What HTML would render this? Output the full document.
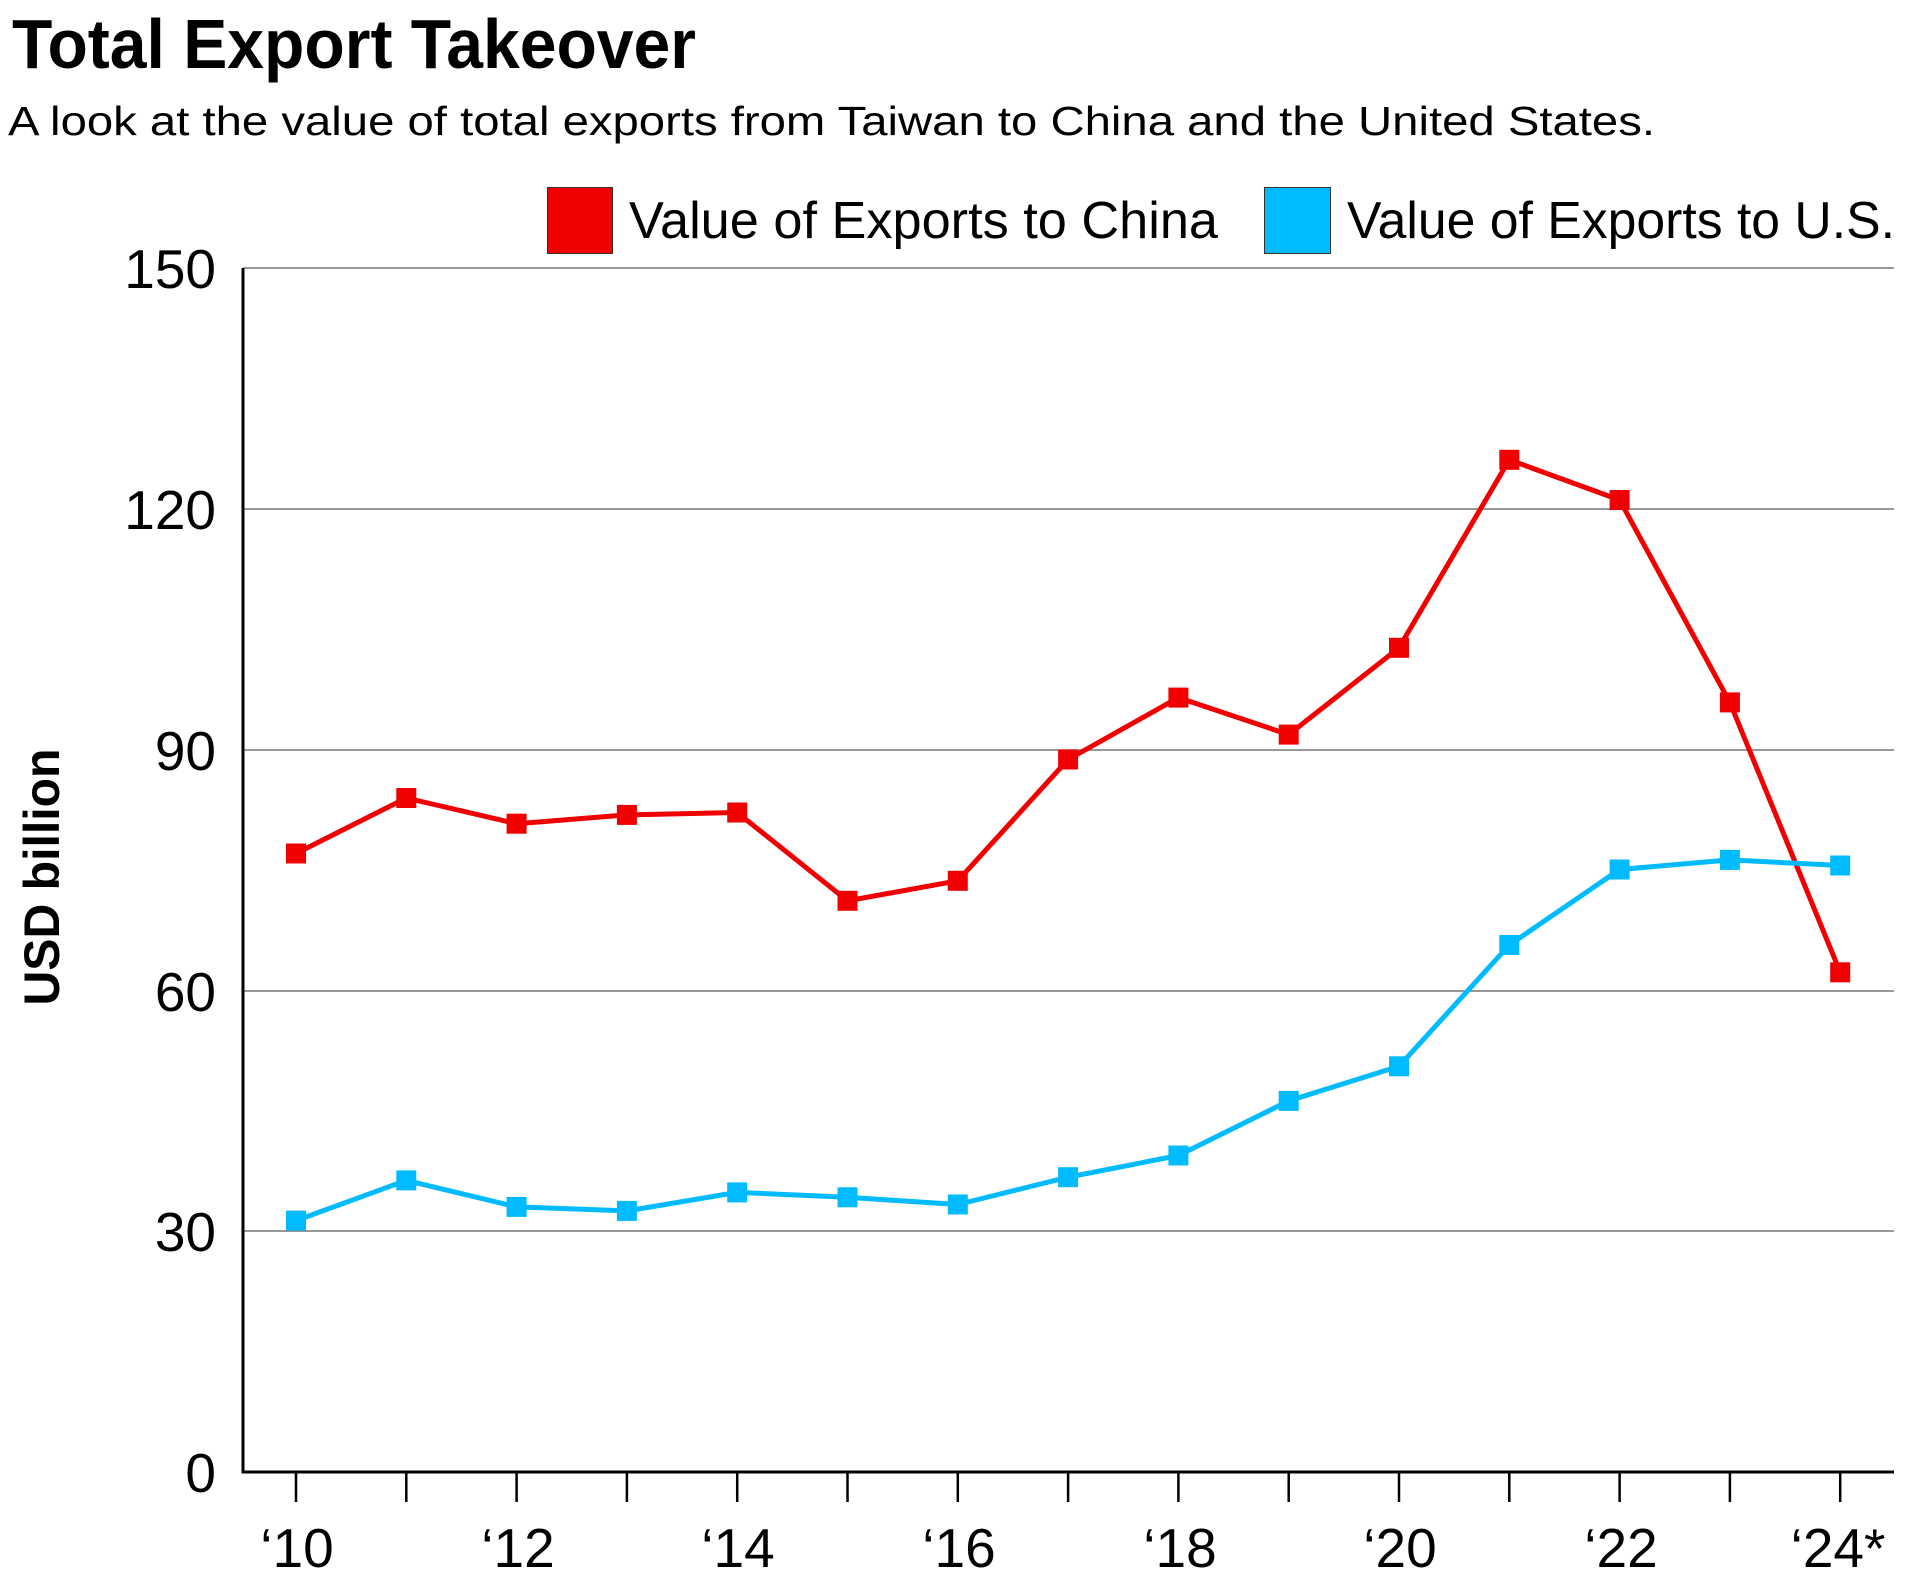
<!DOCTYPE html>
<html><head><meta charset="utf-8"><style>
html,body{margin:0;padding:0;background:#fff;}
svg{display:block;}
text{font-family:"Liberation Sans",sans-serif;fill:#000;}
</style></head><body>
<svg width="1931" height="1589" viewBox="0 0 1931 1589" xmlns="http://www.w3.org/2000/svg">
<text x="12" y="68" font-size="70" font-weight="bold" textLength="684" lengthAdjust="spacingAndGlyphs">Total Export Takeover</text>
<text x="8" y="135" font-size="41" textLength="1647" lengthAdjust="spacingAndGlyphs">A look at the value of total exports from Taiwan to China and the United States.</text>
<rect x="547.5" y="187.5" width="65" height="66" fill="#f00000" stroke="#333" stroke-width="1"/>
<text x="629" y="238" font-size="52" textLength="589" lengthAdjust="spacingAndGlyphs">Value of Exports to China</text>
<rect x="1264.5" y="187.5" width="66" height="66" fill="#00bbff" stroke="#333" stroke-width="1"/>
<text x="1347" y="238" font-size="52" textLength="548" lengthAdjust="spacingAndGlyphs">Value of Exports to U.S.</text>
<g stroke="#777" stroke-width="1.5">
<line x1="243" y1="268" x2="1894" y2="268"/>
<line x1="243" y1="509" x2="1894" y2="509"/>
<line x1="243" y1="750" x2="1894" y2="750"/>
<line x1="243" y1="991" x2="1894" y2="991"/>
<line x1="243" y1="1231" x2="1894" y2="1231"/>
</g>
<g stroke="#000" stroke-width="3" fill="none">
<polyline points="243,268 243,1472 1894,1472"/>
</g>
<g stroke="#000" stroke-width="2.5">
<line x1="296" y1="1472" x2="296" y2="1502"/><line x1="406.3" y1="1472" x2="406.3" y2="1502"/>
<line x1="516.6" y1="1472" x2="516.6" y2="1502"/><line x1="626.9" y1="1472" x2="626.9" y2="1502"/>
<line x1="737.2" y1="1472" x2="737.2" y2="1502"/><line x1="847.5" y1="1472" x2="847.5" y2="1502"/>
<line x1="957.8" y1="1472" x2="957.8" y2="1502"/><line x1="1068.1" y1="1472" x2="1068.1" y2="1502"/>
<line x1="1178.4" y1="1472" x2="1178.4" y2="1502"/><line x1="1288.7" y1="1472" x2="1288.7" y2="1502"/>
<line x1="1399" y1="1472" x2="1399" y2="1502"/><line x1="1509.3" y1="1472" x2="1509.3" y2="1502"/>
<line x1="1619.6" y1="1472" x2="1619.6" y2="1502"/><line x1="1729.9" y1="1472" x2="1729.9" y2="1502"/>
<line x1="1840.2" y1="1472" x2="1840.2" y2="1502"/>
</g>
<g font-size="55" text-anchor="end">
<text x="216" y="288">150</text>
<text x="216" y="529">120</text>
<text x="216" y="770">90</text>
<text x="216" y="1011">60</text>
<text x="216" y="1251">30</text>
<text x="216" y="1492">0</text>
</g>
<g font-size="55" text-anchor="middle">
<text x="297" y="1567">‘10</text>
<text x="518" y="1567">‘12</text>
<text x="738" y="1567">‘14</text>
<text x="959" y="1567">‘16</text>
<text x="1180" y="1567">‘18</text>
<text x="1400" y="1567">‘20</text>
<text x="1621" y="1567">‘22</text>
<text x="1838" y="1567">‘24*</text>
</g>
<text transform="translate(59,877) rotate(-90)" font-size="50" font-weight="bold" text-anchor="middle" textLength="257" lengthAdjust="spacingAndGlyphs">USD billion</text>
<polyline fill="none" stroke="#f00000" stroke-width="5" stroke-linejoin="round" points="296,853.5 406.3,798 516.6,823.7 626.9,814.9 737.2,812.5 847.5,900.8 957.8,880.8 1068.1,759.5 1178.4,697.6 1288.7,734.6 1399,647.8 1509.3,459.8 1619.6,500 1729.9,702.4 1840.2,972.3"/>
<g fill="#f00000">
<rect x="286" y="843.5" width="20" height="20"/><rect x="396.3" y="788" width="20" height="20"/>
<rect x="506.6" y="813.7" width="20" height="20"/><rect x="616.9" y="804.9" width="20" height="20"/>
<rect x="727.2" y="802.5" width="20" height="20"/><rect x="837.5" y="890.8" width="20" height="20"/>
<rect x="947.8" y="870.8" width="20" height="20"/><rect x="1058.1" y="749.5" width="20" height="20"/>
<rect x="1168.4" y="687.6" width="20" height="20"/><rect x="1278.7" y="724.6" width="20" height="20"/>
<rect x="1389" y="637.8" width="20" height="20"/><rect x="1499.3" y="449.8" width="20" height="20"/>
<rect x="1609.6" y="490" width="20" height="20"/><rect x="1719.9" y="692.4" width="20" height="20"/>
<rect x="1830.2" y="962.3" width="20" height="20"/>
</g>
<polyline fill="none" stroke="#00bbff" stroke-width="5" stroke-linejoin="round" points="296,1220.6 406.3,1180.4 516.6,1206.9 626.9,1210.9 737.2,1192.4 847.5,1197.3 957.8,1204.5 1068.1,1177.2 1178.4,1155.5 1288.7,1100.9 1399,1066.3 1509.3,945 1619.6,869.5 1729.9,859.9 1840.2,865.5"/>
<g fill="#00bbff">
<rect x="286" y="1210.6" width="20" height="20"/><rect x="396.3" y="1170.4" width="20" height="20"/>
<rect x="506.6" y="1196.9" width="20" height="20"/><rect x="616.9" y="1200.9" width="20" height="20"/>
<rect x="727.2" y="1182.4" width="20" height="20"/><rect x="837.5" y="1187.3" width="20" height="20"/>
<rect x="947.8" y="1194.5" width="20" height="20"/><rect x="1058.1" y="1167.2" width="20" height="20"/>
<rect x="1168.4" y="1145.5" width="20" height="20"/><rect x="1278.7" y="1090.9" width="20" height="20"/>
<rect x="1389" y="1056.3" width="20" height="20"/><rect x="1499.3" y="935" width="20" height="20"/>
<rect x="1609.6" y="859.5" width="20" height="20"/><rect x="1719.9" y="849.9" width="20" height="20"/>
<rect x="1830.2" y="855.5" width="20" height="20"/>
</g>
</svg>
</body></html>
